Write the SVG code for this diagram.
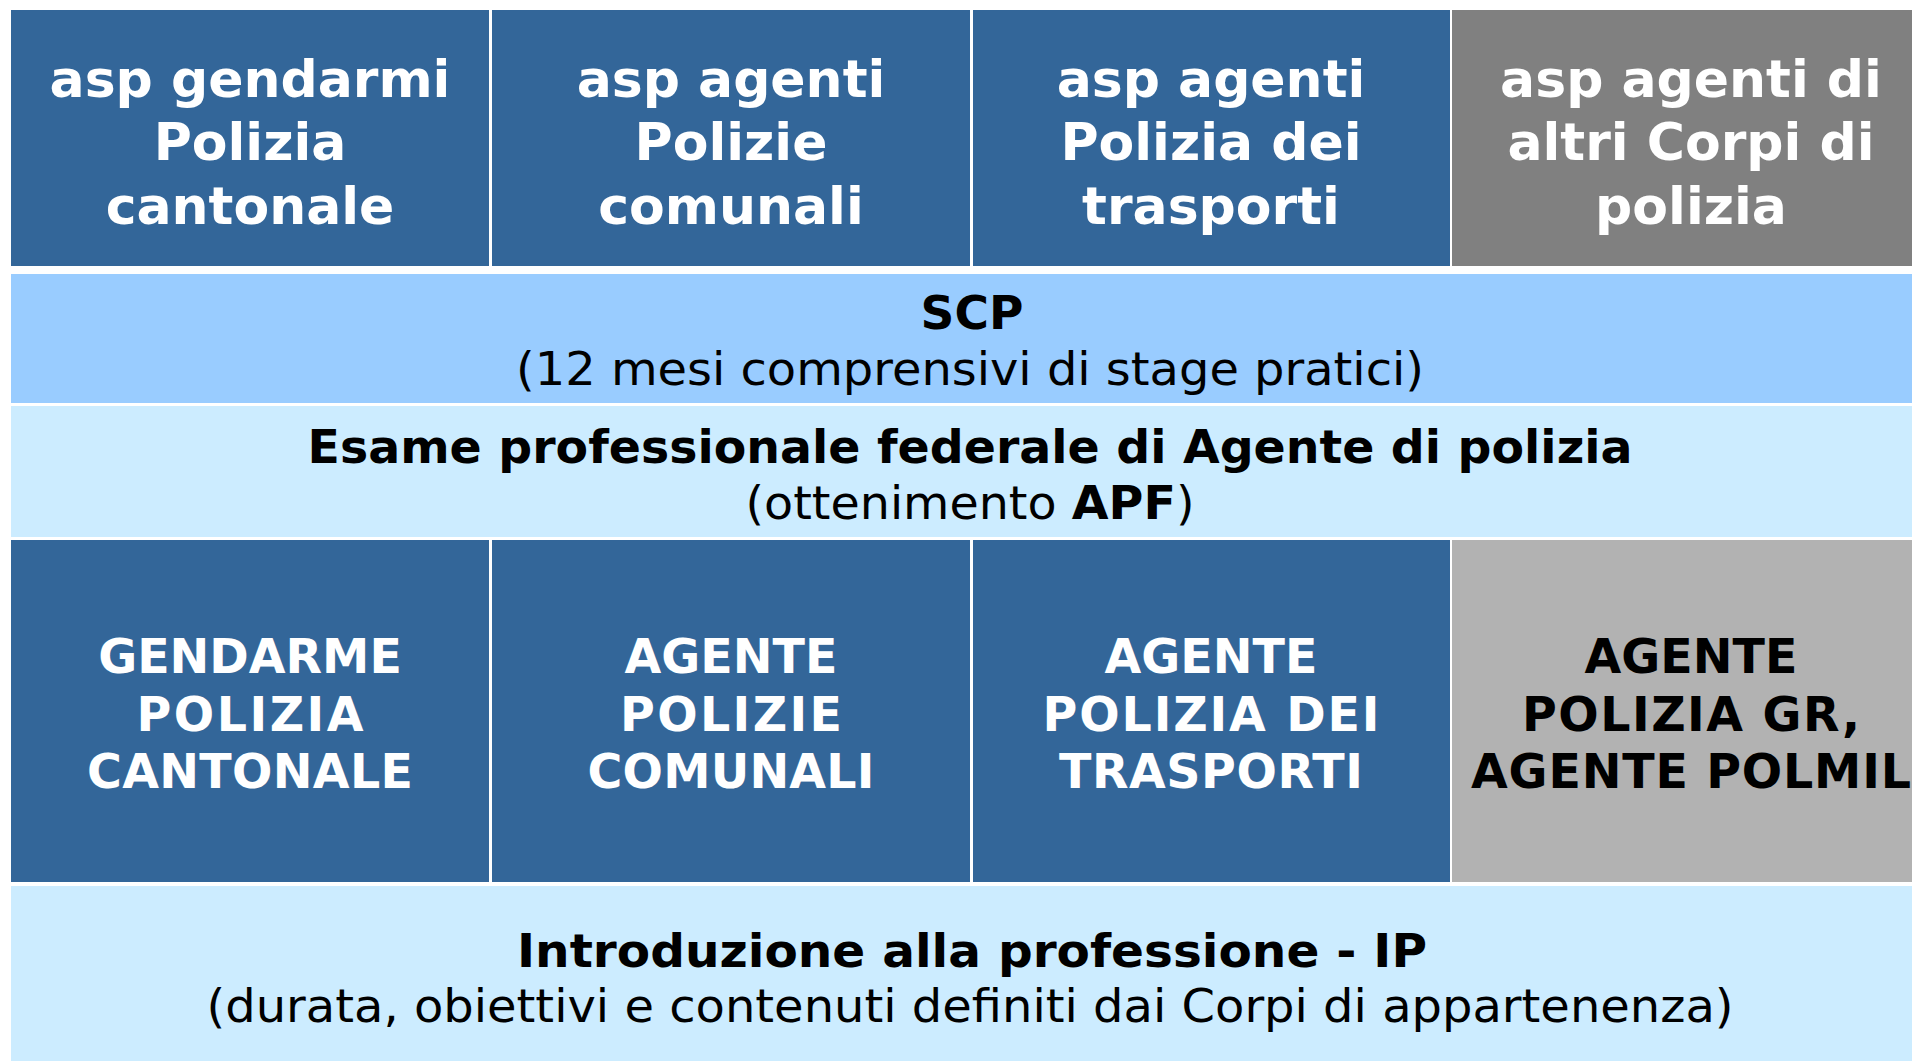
<svg xmlns="http://www.w3.org/2000/svg" width="1912" height="1061" viewBox="0 0 1912 1061">
<style>
.blue{fill:#336699}
.gray{fill:#808080}
.lgray{fill:#B2B2B2}
.scp{fill:#99CCFF}
.pale{fill:#CCECFF}
text{font-family:"DejaVu Sans","Verdana",sans-serif;text-anchor:middle}
.top{font-size:52px;font-weight:bold;fill:#FFFFFF}
.bot{font-size:47.5px;font-weight:bold;fill:#FFFFFF}
.botk{font-size:47.5px;font-weight:bold;fill:#000000}
.mb{font-size:47px;font-weight:bold;fill:#000000}
.mr{font-size:47px;font-weight:normal;fill:#000000}
</style>
<rect x="0" y="0" width="1912" height="1061" fill="#FFFFFF"/>
<g id="top-cantonale">
<rect class="blue" x="11" y="10" width="478" height="256"/>
<text class="top" x="250" y="97">asp gendarmi</text>
<text class="top" x="250" y="160">Polizia</text>
<text class="top" x="250" y="224">cantonale</text>
</g>
<g id="top-comunali">
<rect class="blue" x="492" y="10" width="478" height="256"/>
<text class="top" x="731" y="97">asp agenti</text>
<text class="top" x="731" y="160">Polizie</text>
<text class="top" x="731" y="224">comunali</text>
</g>
<g id="top-trasporti">
<rect class="blue" x="973" y="10" width="477" height="256"/>
<text class="top" x="1211" y="97">asp agenti</text>
<text class="top" x="1211" y="160">Polizia dei</text>
<text class="top" x="1211" y="224">trasporti</text>
</g>
<g id="top-altri">
<rect class="gray" x="1452" y="10" width="481" height="256"/>
<text class="top" x="1691" y="97">asp agenti di</text>
<text class="top" x="1691" y="160">altri Corpi di</text>
<text class="top" x="1691" y="224">polizia</text>
</g>
<g id="scp">
<rect class="scp" x="11" y="274" width="1922" height="129"/>
<text class="mb" x="972" y="329">SCP</text>
<text class="mr" x="970" y="385" textLength="908" lengthAdjust="spacingAndGlyphs">(12 mesi comprensivi di stage pratici)</text>
</g>
<g id="esame">
<rect class="pale" x="11" y="406" width="1922" height="131"/>
<text class="mb" x="970" y="463" textLength="1325" lengthAdjust="spacingAndGlyphs">Esame professionale federale di Agente di polizia</text>
<text class="mr" x="970" y="519" textLength="449" lengthAdjust="spacingAndGlyphs">(ottenimento <tspan font-weight="bold">APF</tspan>)</text>
</g>
<g id="bot-gendarme">
<rect class="blue" x="11" y="540" width="478" height="342"/>
<text class="bot" x="250" y="673">GENDARME</text>
<text class="bot" x="250" y="731" textLength="227" lengthAdjust="spacing">POLIZIA</text>
<text class="bot" x="250" y="788" textLength="326" lengthAdjust="spacing">CANTONALE</text>
</g>
<g id="bot-comunali">
<rect class="blue" x="492" y="540" width="478" height="342"/>
<text class="bot" x="731" y="673">AGENTE</text>
<text class="bot" x="731" y="731" textLength="222" lengthAdjust="spacing">POLIZIE</text>
<text class="bot" x="731" y="788" textLength="287" lengthAdjust="spacing">COMUNALI</text>
</g>
<g id="bot-trasporti">
<rect class="blue" x="973" y="540" width="477" height="342"/>
<text class="bot" x="1211" y="673">AGENTE</text>
<text class="bot" x="1211" y="731" textLength="337" lengthAdjust="spacing">POLIZIA DEI</text>
<text class="bot" x="1211" y="788" textLength="304" lengthAdjust="spacing">TRASPORTI</text>
</g>
<g id="bot-altri">
<rect class="lgray" x="1452" y="540" width="481" height="342"/>
<text class="botk" x="1691" y="673">AGENTE</text>
<text class="botk" x="1691" y="731" textLength="338" lengthAdjust="spacing">POLIZIA GR,</text>
<text class="botk" x="1691" y="788" textLength="440" lengthAdjust="spacing">AGENTE POLMIL</text>
</g>
<g id="ip">
<rect class="pale" x="11" y="886" width="1922" height="175"/>
<text class="mb" x="972" y="967" textLength="910" lengthAdjust="spacingAndGlyphs">Introduzione alla professione - IP</text>
<text class="mr" x="970" y="1022" textLength="1527" lengthAdjust="spacingAndGlyphs">(durata, obiettivi e contenuti definiti dai Corpi di appartenenza)</text>
</g>
<g id="connectors"></g>
</svg>
